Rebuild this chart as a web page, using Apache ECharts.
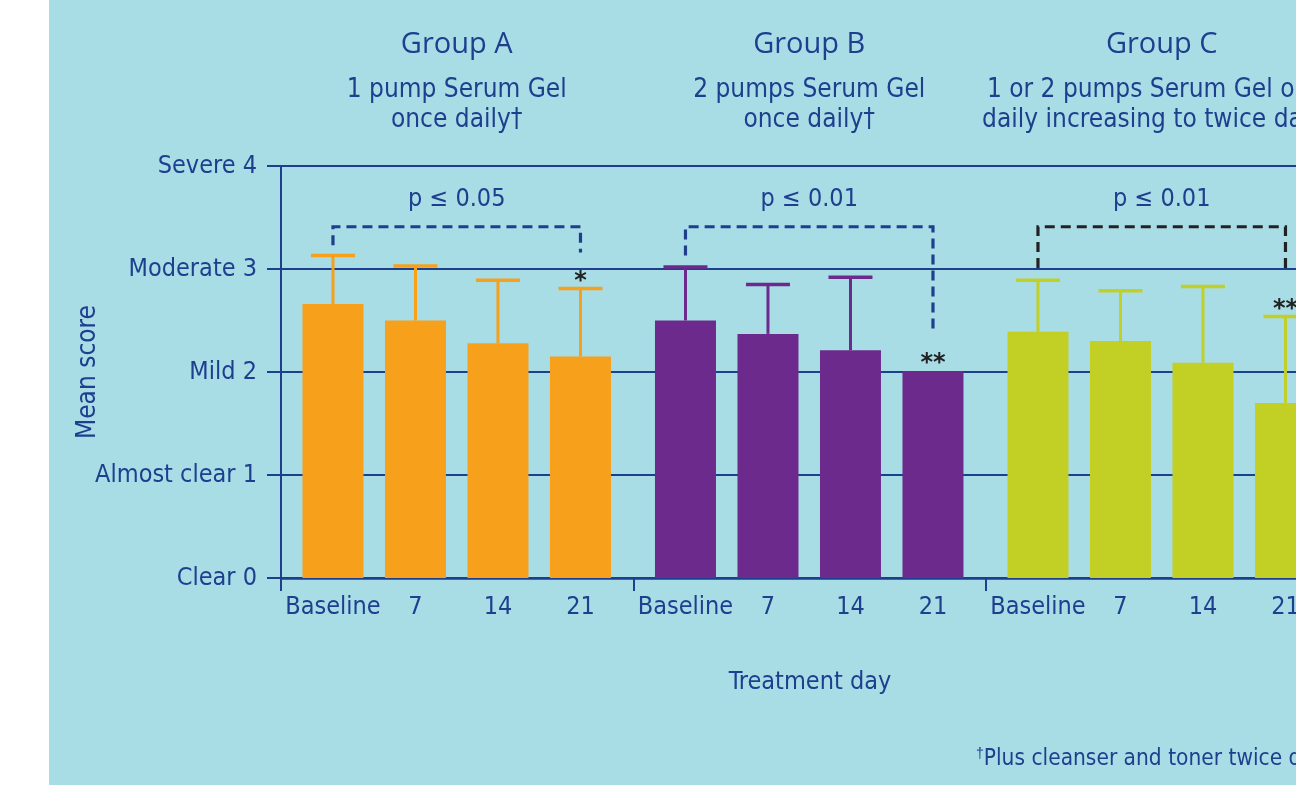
<!DOCTYPE html>
<html>
<head>
<meta charset="utf-8">
<script src="https://cdn.jsdelivr.net/npm/echarts/dist/echarts.min.js"></script>
<style>
  html, body { margin: 0; padding: 0; background: #fff; }
  #chart { width: 1296px; height: 785px; }
</style>
</head>
<body>
<div id="chart"></div>
<script>
// data
const days = ["Baseline", "7", "14", "21"];
const groupNames = ["Group A", "Group B", "Group C"];
const groupNotes = [
  ["1 pump Serum Gel", "once daily\u2020"],
  ["2 pumps Serum Gel", "once daily\u2020"],
  ["1 or 2 pumps Serum Gel once", "daily increasing to twice daily\u2020"]
];
const meanA = [2.66, 2.50, 2.28, 2.15];
const meanB = [2.50, 2.37, 2.21, 2.01];
const meanC = [2.39, 2.30, 2.09, 1.70];
const sdA = [0.47, 0.53, 0.61, 0.66];
const sdB = [0.52, 0.48, 0.71, null];
const sdC = [0.50, 0.49, 0.74, 0.84];
const stars = [["", "", "", "*"], ["", "", "", "**"], ["", "", "", "**"]];
const pLabels = ["p \u2264 0.05", "p \u2264 0.01", "p \u2264 0.01"];
// bracket: [top, left leg end, right leg end] in score units
const bracketA = [3.41, 3.23, 3.16];
const bracketB = [3.41, 3.13, 2.41];
const bracketC = [3.41, 3.01, 3.01];
const yLabels = ["Clear 0", "Almost clear 1", "Mild 2", "Moderate 3", "Severe 4"];
const colors = ["#f6a01b", "#6c2a8c", "#c2cf24"];

const means = [meanA, meanB, meanC];
const sds = [sdA, sdB, sdC];
const brackets = [bracketA, bracketB, bracketC];

const navy = "#1d3f8e";
const narrowFam = "'Liberation Sans Narrow', 'DejaVu Sans Condensed', sans-serif";
const narrowList = "Liberation Sans Narrow, DejaVu Sans Condensed, sans-serif";
const groupStep = 4.2727;  // one group = 4 bars + gap
const xMin = -0.63;

const xPos = [];
const barData = [];
const errData = [];
const starData = [];
means.forEach((vals, g) => {
  vals.forEach((v, i) => {
    const x = g * groupStep + i;
    xPos.push(x);
    barData.push({ value: [x, v], itemStyle: { color: colors[g] } });
    if (sds[g][i] != null) errData.push([x, v, sds[g][i], g]);
    if (stars[g][i]) {
      const top = sds[g][i] != null ? v + sds[g][i] : v;
      starData.push([x, top, stars[g][i]]);
    }
  });
});
const bracketData = brackets.map((b, g) => [g * groupStep, g * groupStep + 3, b[0], b[1], b[2], g]);
const sepTicks = [0, 1, 2].map(g => xMin + g * groupStep);

const chart = echarts.init(document.getElementById("chart"));

const graphics = [
  { type: "rect", z: -10, shape: { x: 49, y: 0, width: 1247, height: 785 }, style: { fill: "#a8dde6" } }
];
groupNames.forEach((name, g) => {
  const cx = 281 + 52 + 82.5 * 1.5 + g * 352.5;
  graphics.push({
    type: "text", x: cx, y: 45,
    style: { text: name, align: "center", verticalAlign: "middle", fill: navy,
             font: "500 29px 'Open Sans', 'Noto Sans', sans-serif" }
  });
  groupNotes[g].forEach((line, k) => {
    graphics.push({
      type: "text", x: cx, y: 90 + k * 30,
      style: { text: line, align: "center", verticalAlign: "middle", fill: navy,
               font: "26px " + narrowFam }
    });
  });
});
graphics.push({
  type: "text", x: 810, y: 682,
  style: { text: "Treatment day", align: "center", verticalAlign: "middle", fill: navy, font: "25px " + narrowFam }
});
graphics.push({
  type: "text", x: 976, y: 759,
  style: {
    text: "{s|\u2020}Plus cleanser and toner twice daily",
    verticalAlign: "middle", fill: navy, font: "22.5px " + narrowFam,
    rich: { s: { fontSize: 14, verticalAlign: "top", padding: [0, 0, 10, 0], fill: navy } }
  }
});

const option = {
  backgroundColor: "#ffffff",
  animation: false,
  graphic: graphics,
  grid: { left: 281, right: 0, top: 166, bottom: 207, containLabel: false, outerBoundsMode: "none" },
  xAxis: {
    type: "value",
    min: xMin,
    max: xMin + 1015 / 82.5,
    axisLine: { show: true, onZero: false, lineStyle: { color: navy, width: 2.5 } },
    axisTick: { show: true, customValues: sepTicks, length: 13, lineStyle: { color: navy, width: 2 } },
    axisLabel: {
      customValues: xPos,
      margin: 17,
      color: navy,
      fontFamily: narrowList,
      fontSize: 25,
      formatter: v => {
        const i = xPos.findIndex(p => Math.abs(p - v) < 1e-6);
        return i < 0 ? "" : days[i % 4];
      }
    },
    splitLine: { show: false }
  },
  yAxis: {
    type: "value",
    min: 0, max: 4, interval: 1,
    name: "Mean score",
    nameLocation: "middle",
    nameGap: 180,
    nameRotate: 90,
    nameMoveOverlap: false,
    nameTextStyle: { color: navy, fontSize: 26, fontFamily: narrowList },
    axisLine: { show: true, onZero: false, lineStyle: { color: navy, width: 2 } },
    axisTick: { show: true, length: 14, lineStyle: { color: navy, width: 2 } },
    axisLabel: {
      margin: 24, color: navy, fontSize: 25,
      fontFamily: narrowList,
      formatter: v => yLabels[v] || ""
    },
    splitLine: { show: true, lineStyle: { color: navy, width: 2 } }
  },
  series: [
    {
      type: "bar",
      data: barData,
      barWidth: 61,
      z: 2
    },
    {
      type: "custom",
      data: errData,
      z: 3,
      clip: false,
      renderItem: (params, api) => {
        const x = api.value(0), m = api.value(1), sd = api.value(2);
        const c = colors[api.value(3)];
        const p0 = api.coord([x, m]);
        const p1 = api.coord([x, m + sd]);
        return {
          type: "group",
          children: [
            { type: "line", shape: { x1: p0[0], y1: p0[1], x2: p1[0], y2: p1[1] }, style: { stroke: c, lineWidth: 3 } },
            { type: "line", shape: { x1: p1[0] - 22, y1: p1[1], x2: p1[0] + 22, y2: p1[1] }, style: { stroke: c, lineWidth: 3.5 } }
          ]
        };
      }
    },
    {
      type: "custom",
      data: bracketData,
      z: 4,
      clip: false,
      renderItem: (params, api) => {
        const g = api.value(5);
        const x0 = api.value(0), x1 = api.value(1);
        const top = api.value(2), l = api.value(3), r = api.value(4);
        const a = api.coord([x0, l]), b = api.coord([x0, top]);
        const c = api.coord([x1, top]), d = api.coord([x1, r]);
        const stroke = g === 2 ? "#222222" : navy;
        const mid = api.coord([(x0 + x1) / 2, 3.67]);
        return {
          type: "group",
          children: [
            { type: "polyline", shape: { points: [a, b, c, d] },
              style: { stroke: stroke, lineWidth: 3.2, lineDash: [10, 6], fill: "none" } },
            { type: "text", x: mid[0], y: mid[1],
              style: { text: pLabels[g], align: "center", verticalAlign: "middle", fill: navy, font: "25px " + narrowFam } }
          ]
        };
      }
    },
    {
      type: "custom",
      data: starData,
      z: 5,
      clip: false,
      renderItem: (params, api) => {
        const p = api.coord([api.value(0), api.value(1)]);
        return {
          type: "text", x: p[0], y: p[1] + 5,
          style: { text: api.value(2), align: "center", verticalAlign: "bottom", fill: "#222222",
                   font: "bold 24px 'DejaVu Sans', sans-serif" }
        };
      }
    }
  ]
};
chart.setOption(option);
</script>
</body>
</html>
